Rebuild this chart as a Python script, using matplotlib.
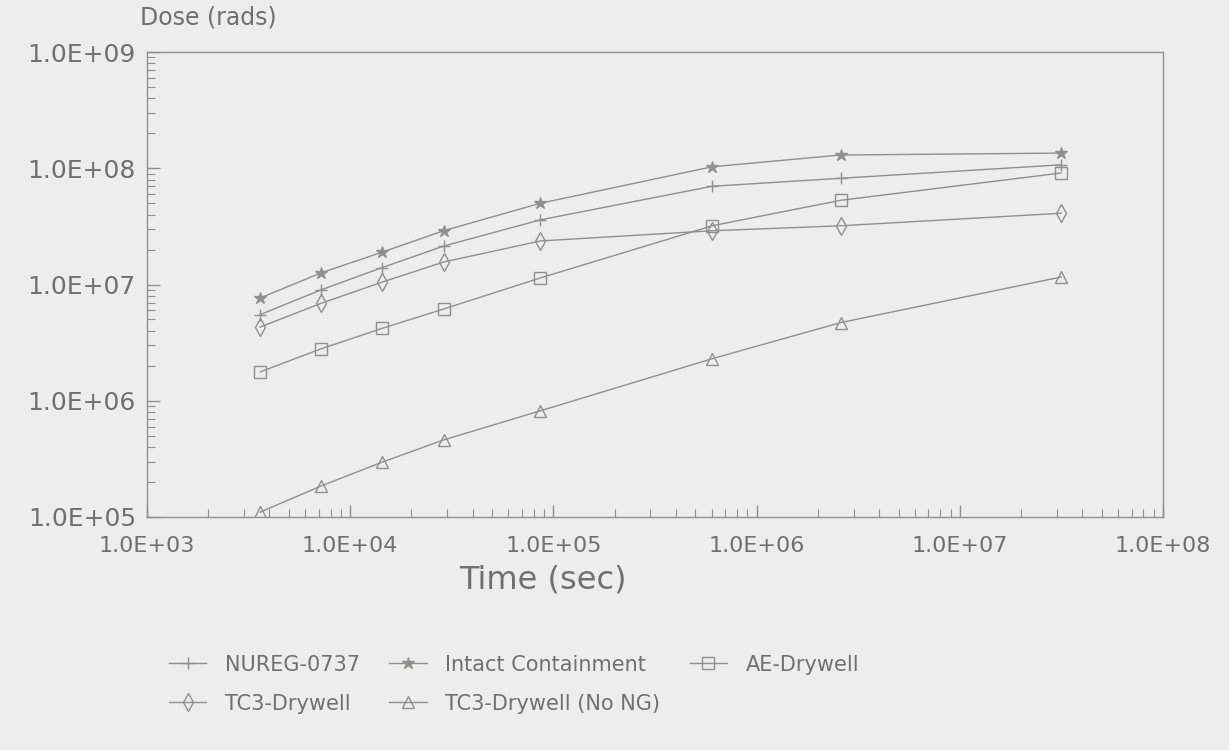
import matplotlib
matplotlib.use('Agg')
import matplotlib.pyplot as plt
from matplotlib.ticker import LogLocator, FixedLocator, NullFormatter

# times: 1 h, 2 h, 4 h, 8 h, 1 day, 1 week, 30 days, 1 year (sec)
time_sec = [3.6e3, 7.2e3, 1.44e4, 2.88e4, 8.64e4, 6.048e5, 2.592e6, 3.15e7]

nureg = [5.5e6, 9.0e6, 1.4e7, 2.14e7, 3.6e7, 7.0e7, 8.2e7, 1.07e8]
intact = [7.65e6, 1.26e7, 1.9e7, 2.9e7, 5.0e7, 1.03e8, 1.3e8, 1.35e8]
ae_drywell = [1.77e6, 2.8e6, 4.2e6, 6.15e6, 1.14e7, 3.2e7, 5.3e7, 9.1e7]
tc3_drywell = [4.3e6, 6.9e6, 1.05e7, 1.56e7, 2.37e7, 2.9e7, 3.2e7, 4.1e7]
tc3_no_ng = [1.1e5, 1.85e5, 2.97e5, 4.6e5, 8.2e5, 2.3e6, 4.7e6, 1.16e7]

x_ticks = [1e3, 1e4, 1e5, 1e6, 1e7, 1e8]
x_tick_labels = ['1.0E+03', '1.0E+04', '1.0E+05', '1.0E+06', '1.0E+07', '1.0E+08']
y_ticks = [1e5, 1e6, 1e7, 1e8, 1e9]
y_tick_labels = ['1.0E+05', '1.0E+06', '1.0E+07', '1.0E+08', '1.0E+09']

bg = '#ededeb'
line_c = '#8f8f8f'
text_c = '#707070'

plt.rcParams['font.family'] = ['DejaVu Sans']

fig = plt.figure(figsize=(12.29, 7.5), dpi=100, facecolor=bg)
ax = fig.add_axes([147 / 1229, 1 - 517 / 750, 1016 / 1229, 465 / 750])
ax.set_facecolor(bg)

style = dict(color=line_c, lw=1.0, markersize=9, markeredgewidth=1.0)
h1, = ax.plot(time_sec, nureg, marker='+', label='NUREG-0737', **style)
h2, = ax.plot(time_sec, intact, marker='*', markerfacecolor=line_c,
              label='Intact Containment', **style)
h3, = ax.plot(time_sec, ae_drywell, marker='s', markerfacecolor='none',
              label='AE-Drywell', **{**style, 'markersize': 8})
h4, = ax.plot(time_sec, tc3_drywell, marker='d', markerfacecolor='none',
              label='TC3-Drywell', **style)
h5, = ax.plot(time_sec, tc3_no_ng, marker='^', markerfacecolor='none',
              label='TC3-Drywell (No NG)', **style)

ax.set_xscale('log')
ax.set_yscale('log')
ax.set_xlim(1e3, 1e8)
ax.set_ylim(1e5, 1e9)

ax.xaxis.set_major_locator(FixedLocator(x_ticks))
ax.set_xticklabels(x_tick_labels)
ax.yaxis.set_major_locator(FixedLocator(y_ticks))
ax.set_yticklabels(y_tick_labels)
ax.xaxis.set_minor_locator(LogLocator(base=10, subs=range(2, 10)))
ax.yaxis.set_minor_locator(LogLocator(base=10, subs=range(2, 10)))
ax.xaxis.set_minor_formatter(NullFormatter())
ax.yaxis.set_minor_formatter(NullFormatter())

ax.tick_params(axis='both', which='both', direction='in', colors=line_c,
               top=False, right=False, labelcolor=text_c)
ax.tick_params(axis='both', which='major', length=9, width=1.0)
ax.tick_params(axis='both', which='minor', length=6, width=0.8)
ax.tick_params(axis='x', which='major', pad=14, labelsize=16)
ax.tick_params(axis='y', which='major', pad=8, labelsize=18)

for sp in ax.spines.values():
    sp.set_color(line_c)
    sp.set_linewidth(1.0)

fig.text(140 / 1229, 1 - 18 / 750, 'Dose (rads)', fontsize=17, color=text_c,
         ha='left', va='center')
fig.text(543 / 1229, 1 - 580 / 750, 'Time (sec)', fontsize=23, color=text_c,
         ha='center', va='center')

leg = fig.legend(handles=[h1, h4, h2, h5, h3], ncol=3, loc='upper left',
                 bbox_to_anchor=(150 / 1229, 1 - 636 / 750), frameon=False,
                 handlelength=1.8, handletextpad=0.9, columnspacing=1.4,
                 labelspacing=0.9,
                 prop={'family': ['Liberation Sans Narrow', 'DejaVu Sans'],
                       'size': 15})
for t in leg.get_texts():
    t.set_color(text_c)

fig.savefig('out.png', dpi=100, facecolor=bg)
